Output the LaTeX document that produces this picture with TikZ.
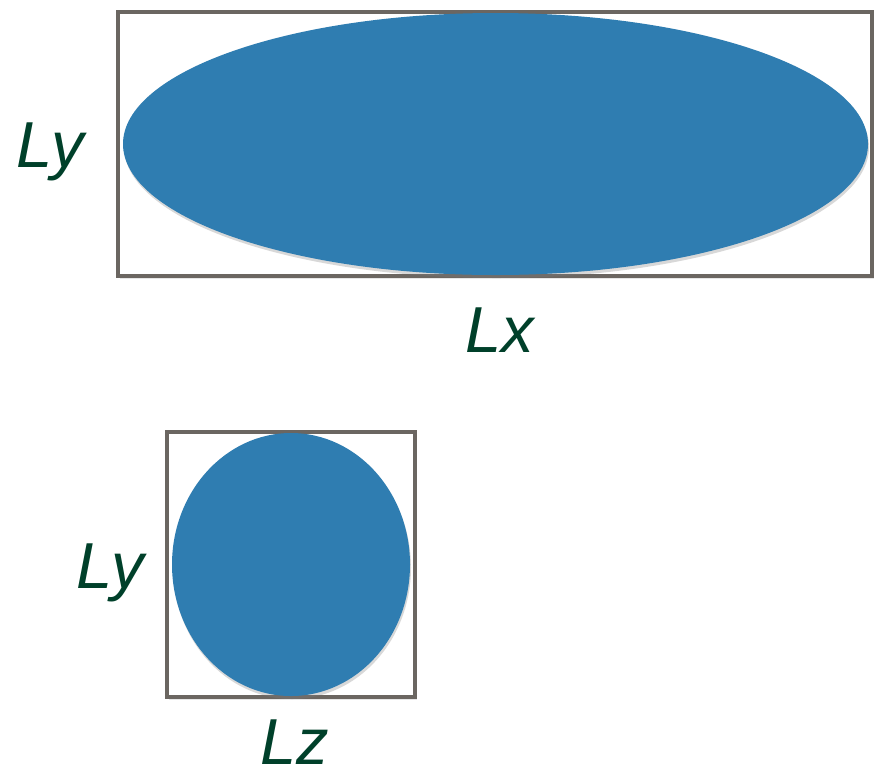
\documentclass[tikz,border=0pt]{standalone}
\usepackage{fontspec}
\setmainfont{Liberation Sans}
\usepackage{xcolor}
\usepackage{tikz}
\usetikzlibrary{positioning,shapes.geometric,shadows}

\definecolor{boxgrey}{HTML}{6B6661}
\definecolor{blobblue}{HTML}{2F7DB1}
\definecolor{labgreen}{HTML}{00402A}

\begin{document}
\begin{tikzpicture}[
    x=0.5pt, y=-0.5pt,
    frame/.style={draw=boxgrey, fill=white, line width=2.4pt, inner sep=0pt, outer sep=0pt,
                  drop shadow={opacity=0.2, shadow xshift=1pt, shadow yshift=-1.5pt}},
    blob/.style={ellipse, fill=blobblue, draw=none, inner sep=0pt, outer sep=0pt,
                 drop shadow={opacity=0.3, shadow xshift=0.5pt, shadow yshift=-1.5pt}},
    lab/.style={anchor=base, text=labgreen, inner sep=0pt,
                font=\fontsize{32.5}{36}\selectfont\itshape},
  ]
  \useasboundingbox (0,0) rectangle (876,772);
  % x-y cross-section
  \node[frame, minimum width=377pt, minimum height=132pt] (xybox) at (495,144) {};
  \node[blob, minimum width=372.5pt, minimum height=131pt] (xyblob) at (495.5,144) {};
  \node[lab] (lyTop) at (50,167) {Ly};
  \node[lab] (lx) at (500,352) {Lx};
  % z-y cross-section
  \node[frame, minimum width=124pt, minimum height=132.5pt] (zybox) at (291,564.5) {};
  \node[blob, minimum width=119pt, minimum height=131.5pt] (zyblob) at (291,564.5) {};
  \node[lab] (lyBot) at (110,588) {Ly};
  \node[lab] (lz) at (295,764) {Lz};
\end{tikzpicture}
\end{document}
